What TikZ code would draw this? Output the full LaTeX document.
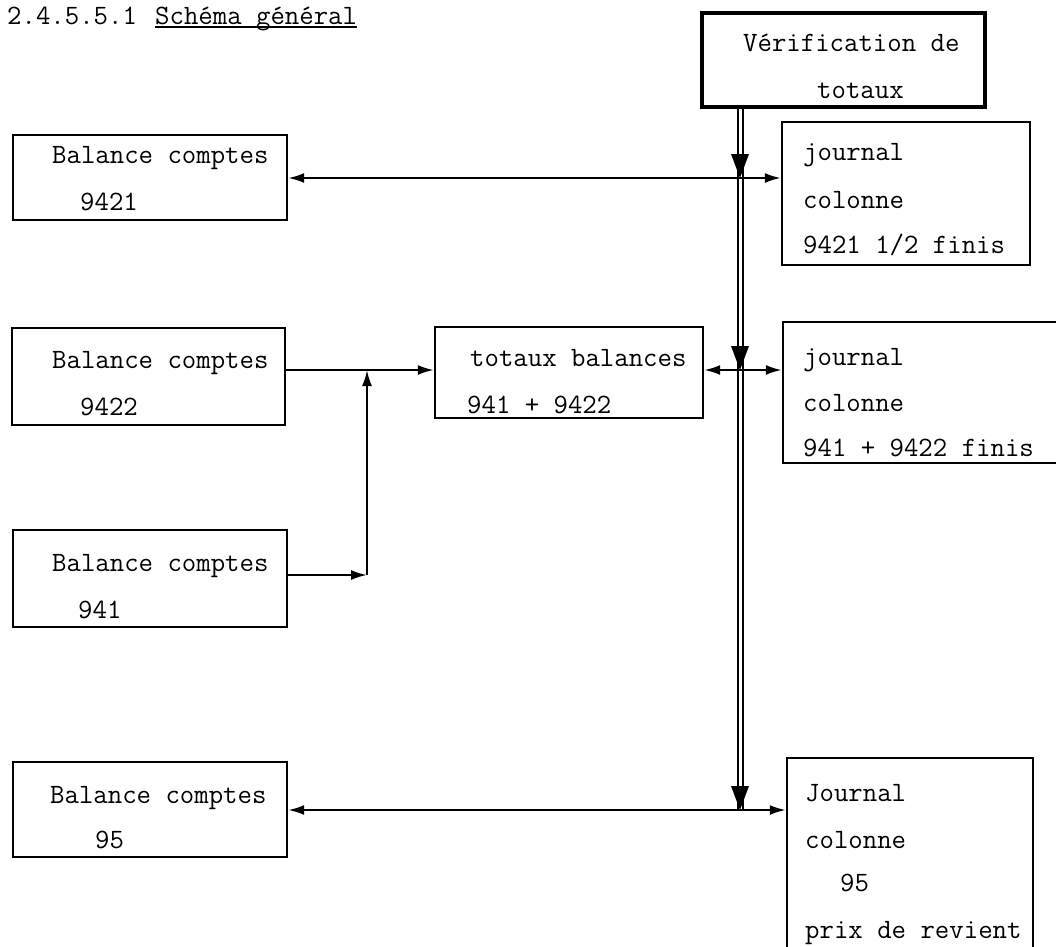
\documentclass[tikz,border=0pt]{standalone}
\usepackage{fontspec}
\usetikzlibrary{arrows.meta}
\begin{document}
\begin{tikzpicture}[x=1pt,y=-1pt,
  box/.style={draw, line width=2.4pt, inner sep=0pt},
  thickbox/.style={draw, line width=4.8pt, inner sep=0pt},
  txt/.style={anchor=base west, inner sep=0pt, font=\fontsize{28}{28}\selectfont\ttfamily},
  arr/.style={line width=2.2pt, -{Latex[length=16pt,width=10pt]}},
  dbl/.style={line width=2pt, double=white, double distance=3pt},
  downtip/.style={fill=black}
]
\useasboundingbox (0,0) rectangle (1056,946);

% title
\node[txt] (tn) at (7,24) {2.4.5.5.1};
\node[txt] (tw) at (155,24) {Schéma général};
\draw[line width=1.6pt] ([yshift=-3pt]tw.base west) -- ([yshift=-3pt]tw.base east);

% boxes
\node[thickbox, minimum width=283pt, minimum height=94pt] (verif) at (843.5,60) {};
\node[box, minimum width=274pt, minimum height=85pt] (b9421) at (150,177.5) {};
\node[box, minimum width=273pt, minimum height=97pt] (b9422) at (148.5,376.5) {};
\node[box, minimum width=274pt, minimum height=97pt] (b941) at (150,578.5) {};
\node[box, minimum width=274pt, minimum height=95pt] (b95) at (150,809.5) {};
\node[box, minimum width=268pt, minimum height=91pt] (tot) at (569,372.5) {};
\node[box, minimum width=248pt, minimum height=143pt] (j9421) at (906,193.5) {};
\node[box, minimum width=292pt, minimum height=141pt] (j941) at (929,392.5) {};
\node[box, minimum width=246pt, minimum height=207pt] (j95) at (910,861.5) {};

% texts
\node[txt] (v1) at (743,51) {Vérification de};
\node[txt] (v2) at (817,98) {totaux};

\node[txt] (a1) at (52,163) {Balance comptes};
\node[txt] (a2) at (80,210) {9421};
\node[txt] (c1) at (52,368) {Balance comptes};
\node[txt] (c2) at (80,415) {9422};
\node[txt] (d1) at (52,571) {Balance comptes};
\node[txt] (d2) at (78,618) {941};
\node[txt] (e1) at (50,803) {Balance comptes};
\node[txt] (e2) at (95,848) {95};

\node[txt] (t1) at (470,366) {totaux balances};
\node[txt] (t2) at (467,413) {941 + 9422};

\node[txt] (f1) at (803,160) {journal};
\node[txt] (f2) at (803,208) {colonne};
\node[txt] (f3) at (803,253) {9421 1/2 finis};
\node[txt] (g1) at (803,365) {journal};
\node[txt] (g2) at (803,411) {colonne};
\node[txt] (g3) at (803,456) {941 + 9422 finis};
\node[txt] (h1) at (805,801) {Journal};
\node[txt] (h2) at (805,848) {colonne};
\node[txt] (h3) at (840,891) {95};
\node[txt] (h4) at (805,938) {prix de revient};

% junctions
\coordinate (j1) at (740,178);
\coordinate (j2) at (740,370);
\coordinate (j3) at (740,810);
\coordinate (k2) at (367,370);
\coordinate (k3) at (367,575);

% double vertical line
\draw[dbl] (verif.south -| j1) -- (j3);
\foreach \j in {j1,j2,j3}
  \fill[downtip] (\j) -- ++(-9,-24) -- ++(18,0) -- cycle;

% horizontal connectors
\draw[arr] (j1) -- (j1 -| b9421.east);
\draw[arr] (j1) -- (j1 -| j9421.west);
\draw[arr] (b9422.east |- k2) -- (k2 -| tot.west);
\draw[arr] (b941.east |- k3) -- (k3);
\draw[arr] (k3) -- (k2);
\draw[arr] (j2) -- (j2 -| tot.east);
\draw[arr] (j2) -- (j2 -| j941.west);
\draw[arr] (j3) -- (j3 -| b95.east);
\draw[arr] (j3) -- (j3 -| j95.west);
\end{tikzpicture}
\end{document}
